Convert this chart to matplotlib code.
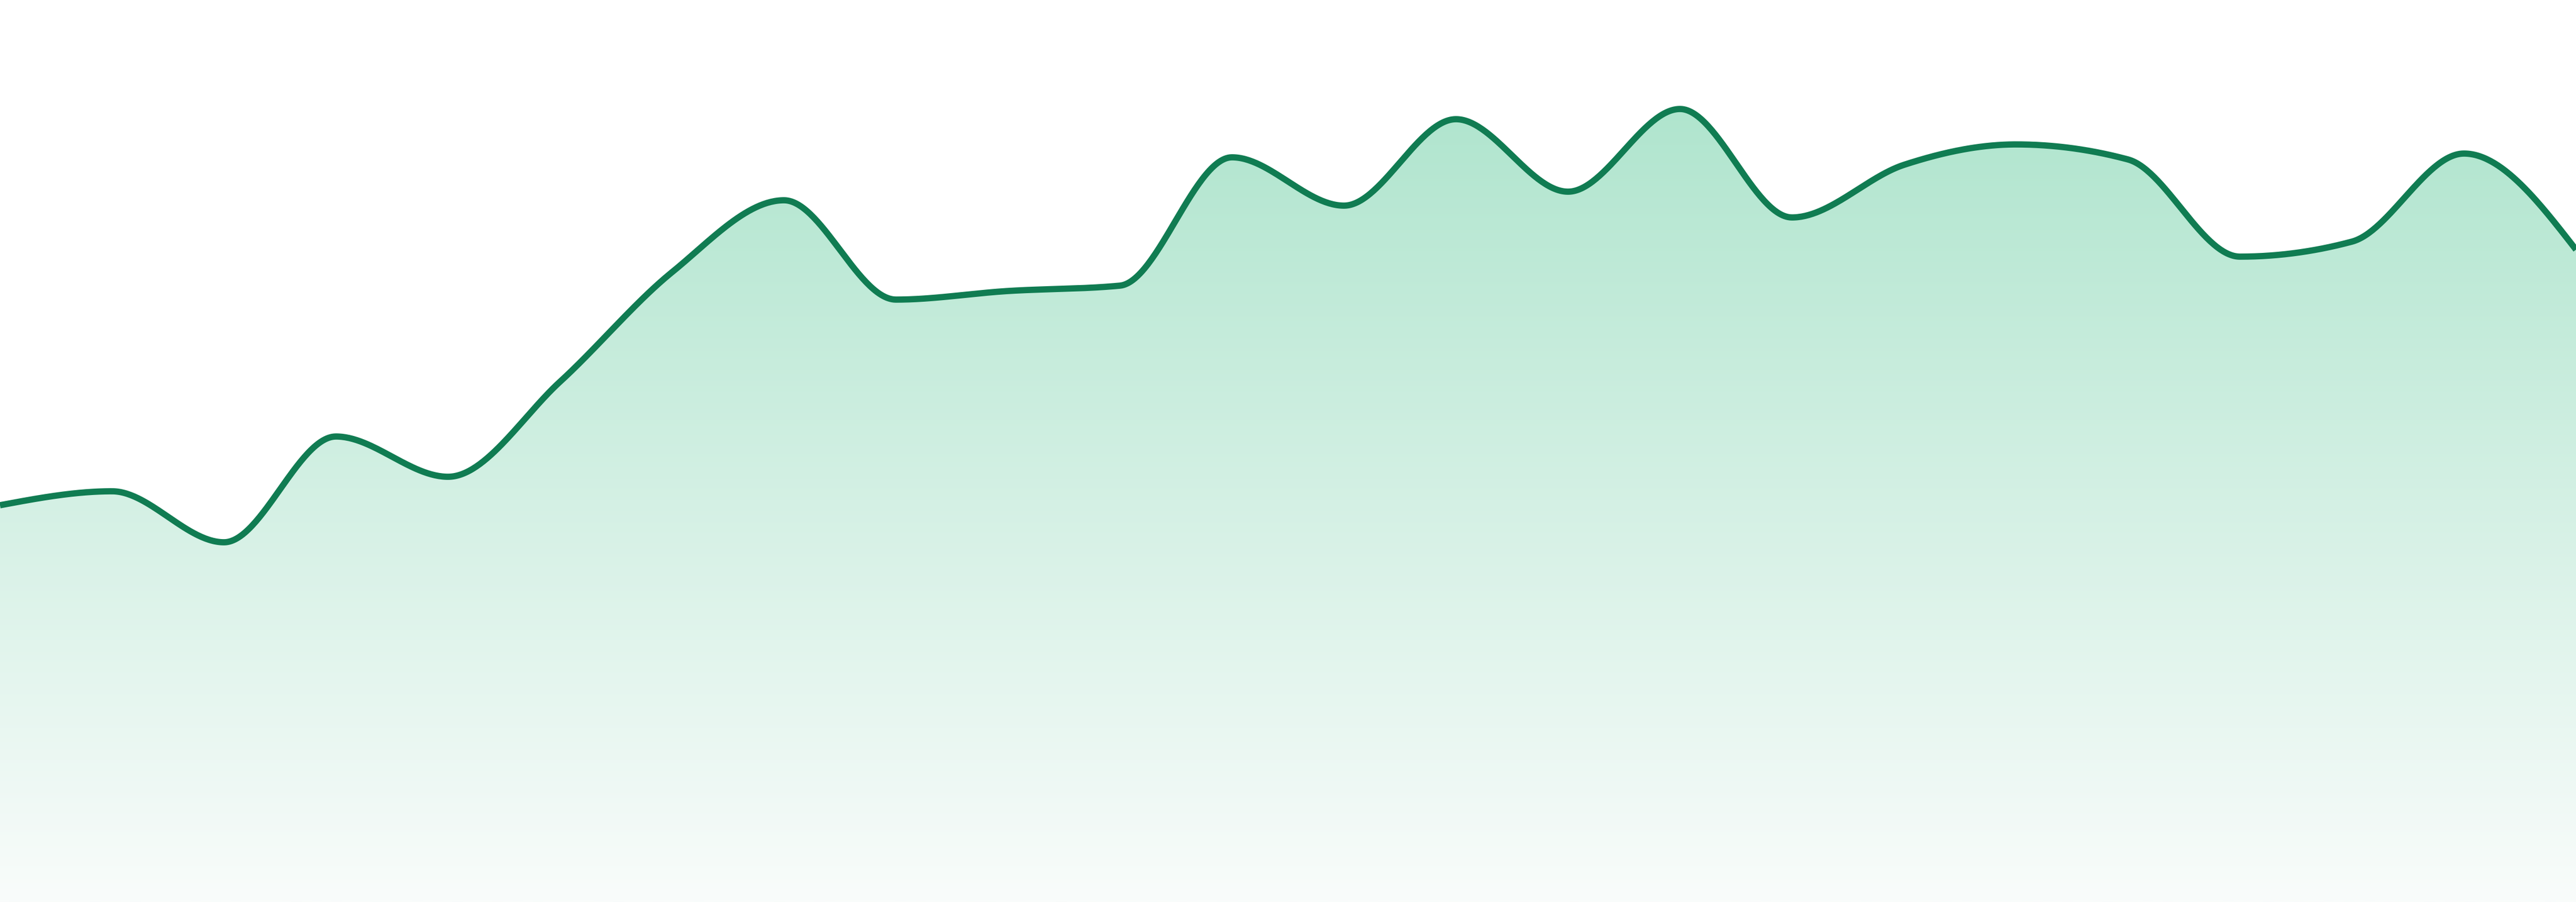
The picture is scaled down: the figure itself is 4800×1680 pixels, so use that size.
import numpy as np
import matplotlib
matplotlib.use("Agg")
from matplotlib import pyplot as plt
from matplotlib.patches import Polygon

# values (one point per step, 24 steps)
steps = list(range(24))
values = [739, 765, 670, 867, 792, 969, 1173, 1307, 1122, 1138, 1148, 1387,
          1297, 1458, 1323, 1477, 1275, 1373, 1411, 1383, 1202, 1230, 1394, 1215]
y_max = 1680

line_color = "#107c52"
fill_top = (176, 229, 206)     # colour just under the highest point
fill_bottom = (249, 252, 251)  # colour at the base


def sign(v):
    return -1.0 if v < 0 else 1.0


def monotone_slopes(x, y):
    # same slopes as d3.curveMonotoneX
    n = len(x)
    t = np.zeros(n)
    for i in range(1, n - 1):
        h0 = x[i] - x[i - 1]
        h1 = x[i + 1] - x[i]
        s0 = (y[i] - y[i - 1]) / h0
        s1 = (y[i + 1] - y[i]) / h1
        p = (s0 * h1 + s1 * h0) / (h0 + h1)
        t[i] = (sign(s0) + sign(s1)) * min(abs(s0), abs(s1), 0.5 * abs(p))
    h = x[1] - x[0]
    t[0] = (3 * (y[1] - y[0]) / h - t[1]) / 2
    h = x[-1] - x[-2]
    t[-1] = (3 * (y[-1] - y[-2]) / h - t[-2]) / 2
    return t


def monotone_curve(x, y, per_seg=60):
    x = np.asarray(x, float)
    y = np.asarray(y, float)
    t = monotone_slopes(x, y)
    xs, ys = [], []
    for i in range(len(x) - 1):
        dx = x[i + 1] - x[i]
        u = np.linspace(0, 1, per_seg, endpoint=(i == len(x) - 2))
        h00 = 2 * u ** 3 - 3 * u ** 2 + 1
        h10 = u ** 3 - 2 * u ** 2 + u
        h01 = -2 * u ** 3 + 3 * u ** 2
        h11 = u ** 3 - u ** 2
        xs.append(x[i] + u * dx)
        ys.append(h00 * y[i] + h10 * dx * t[i] + h01 * y[i + 1] + h11 * dx * t[i + 1])
    return np.concatenate(xs), np.concatenate(ys)


cx, cy = monotone_curve(steps, values)

fig = plt.figure(figsize=(16, 5.6), dpi=300)
ax = fig.add_axes([0, 0, 1, 1])
ax.set_xlim(steps[0], steps[-1])
ax.set_ylim(0, y_max)
ax.axis("off")

# vertical gradient under the line
top = max(values)
n = 256
grad = np.zeros((n, 1, 3))
for k in range(3):
    grad[:, 0, k] = np.linspace(fill_top[k], fill_bottom[k], n) / 255.0
im = ax.imshow(grad, extent=[steps[0], steps[-1], 0, top], aspect="auto",
               origin="upper", interpolation="bilinear", zorder=1)
verts = np.column_stack([np.r_[cx[0], cx, cx[-1]], np.r_[0, cy, 0]])
poly = Polygon(verts, closed=True, facecolor="none", edgecolor="none")
ax.add_patch(poly)
im.set_clip_path(poly)

ax.plot(cx, cy, color=line_color, linewidth=2.8, solid_capstyle="butt", zorder=2)

fig.savefig("out.png", dpi=300, facecolor="white")
